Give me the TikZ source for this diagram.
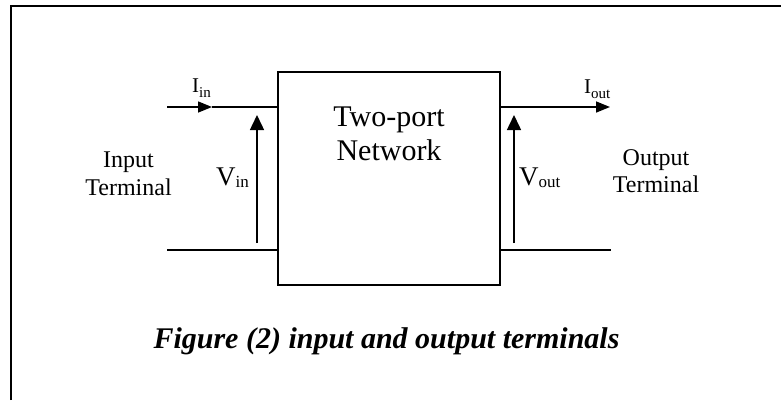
\documentclass[tikz,border=0pt]{standalone}
\usepackage{fontspec}
\setmainfont{Liberation Serif}
\usetikzlibrary{arrows.meta}
\tikzset{
  wire/.style={line width=1.5pt},
  boxline/.style={line width=1.8pt},
  txt/.style={inner sep=0pt, anchor=base},
  lbl/.style={inner sep=0pt, anchor=base west},
  harrow/.style={wire, -{Triangle[length=14pt,width=11pt]}},
  varrow/.style={wire, -{Triangle[length=15pt,width=14pt]}},
}
\newcommand{\bigtxt}{\fontsize{30}{33}\selectfont}
\newcommand{\midtxt}{\fontsize{24}{28}\selectfont}
\begin{document}
\begin{tikzpicture}[x=1pt,y=-1pt]
\useasboundingbox (0,0) rectangle (781,400);
% frame
\draw[line width=2pt] (11,400) -- (11,5.5) -- (781,5.5);
% box
\node[draw, boxline, minimum width=222pt, minimum height=213pt, inner sep=0pt] (box) at (389,178.5) {};
% coordinates
\coordinate (inT) at (167,107);
\coordinate (inTip) at (212,107);
\coordinate (inTB) at (box.west |- inTip);
\coordinate (inB) at (167,250);
\coordinate (inBB) at (box.west |- inB);
\coordinate (outTB) at (box.east |- inTip);
\coordinate (outT) at (610,107);
\coordinate (outBB) at (box.east |- inB);
\coordinate (outB) at (611,250);
\coordinate (vinL) at (257,243);
\coordinate (vinH) at (257,115);
\coordinate (voutL) at (514,243);
\coordinate (voutH) at (514,115);
% wires
\draw[harrow] (inT) -- (inTip);
\draw[wire] (inTip) -- (inTB);
\draw[wire] (inB) -- (inBB);
\draw[harrow] (outTB) -- (outT);
\draw[wire] (outBB) -- (outB);
\draw[varrow] (vinL) -- (vinH);
\draw[varrow] (voutL) -- (voutH);
% labels
\node[txt] (tp1) at (389,126.7) {\bigtxt Two-port};
\node[txt] (tp2) at (389,160) {\bigtxt Network};
\node[txt] (it1) at (128.5,167) {\midtxt Input};
\node[txt] (it2) at (128.5,195) {\midtxt Terminal};
\node[txt] (ot1) at (656,165) {\midtxt Output};
\node[txt] (ot2) at (656,192) {\midtxt Terminal};
\node[lbl] (iin) at (192,92) {\fontsize{21}{21}\selectfont I\raisebox{-5pt}{\fontsize{15}{15}\selectfont in}};
\node[lbl] (iout) at (584,93) {\fontsize{21}{21}\selectfont I\raisebox{-5pt}{\fontsize{15}{15}\selectfont out}};
\node[lbl] (vin) at (216,185) {\fontsize{27}{27}\selectfont V\raisebox{-2pt}{\fontsize{17}{17}\selectfont in}};
\node[lbl] (vout) at (519,185) {\fontsize{27}{27}\selectfont V\raisebox{-2pt}{\fontsize{17}{17}\selectfont out}};
\node[txt] (cap) at (386.5,348) {\fontsize{30}{33}\selectfont\bfseries\itshape Figure (2) input and output terminals};
\end{tikzpicture}
\end{document}
